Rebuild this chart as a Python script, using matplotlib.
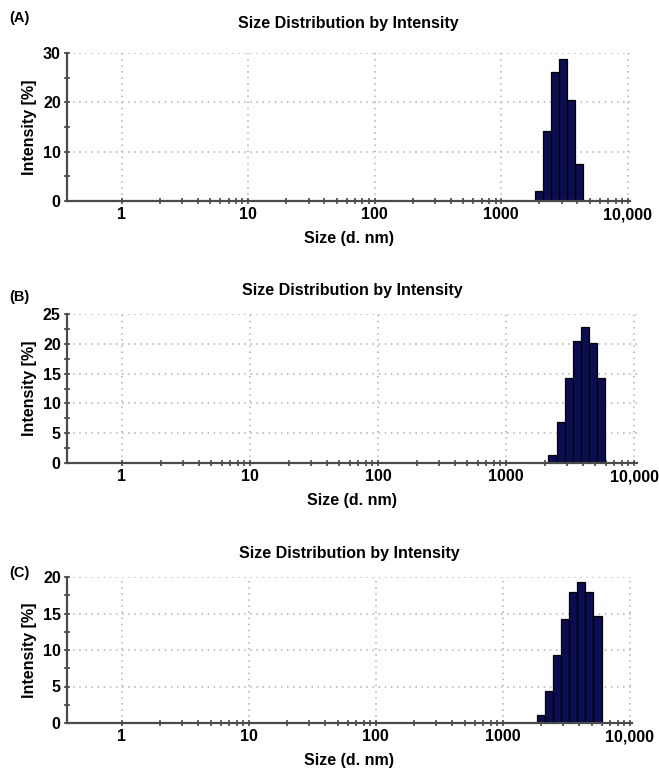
#!/usr/bin/env python3
# plot.py - DLS size distribution by intensity, three samples

import numpy as np
import matplotlib
matplotlib.use("Agg")
import matplotlib.pyplot as plt
from matplotlib.ticker import FixedLocator, FuncFormatter

plt.rcParams['font.family'] = ['Liberation Sans', 'DejaVu Sans']
plt.rcParams['font.weight'] = 'bold'

# size classes (d. nm) and intensity (%)
sizes_a = [1990, 2305, 2669, 3091, 3580, 4145]
intensity_a = [2.1, 14.1, 26.2, 28.7, 20.5, 7.6]

sizes_b = [2305, 2669, 3091, 3580, 4145, 4801, 5560]
intensity_b = [1.4, 6.9, 14.3, 20.4, 22.8, 20.2, 14.3]

sizes_c = [1990, 2305, 2669, 3091, 3580, 4145, 4801, 5560]
intensity_c = [1.1, 4.4, 9.3, 14.3, 17.9, 19.3, 17.9, 14.7]

panel_labels = ['(A)', '(B)', '(C)']
y_max = [30, 25, 20]
y_major = [10, 5, 5]
y_minor = [5, 2.5, 2.5]

# Malvern class ratio between neighbouring sizes
RATIO = 1.1581

W, H = 659, 776
BAR_COLOR = '#0b0d52'
AXIS_COLOR = '#4a4a4a'


def fmt_size(v, pos):
    if v >= 10000:
        return f"{int(v):,}"
    if v >= 1:
        return f"{int(round(v))}"
    return ""


def draw_panel(fig, rect_px, sizes, values, ymax, ymaj, ymin, label, label_y, xlim, title_pad):
    left, right, top, bottom = rect_px
    ax = fig.add_axes([left / W, 1 - bottom / H, (right - left) / W, (bottom - top) / H])

    sizes = np.array(sizes, dtype=float)
    lefts = sizes / np.sqrt(RATIO)
    widths = sizes * np.sqrt(RATIO) - lefts
    ax.bar(lefts, values, width=widths, align='edge', color=BAR_COLOR,
           edgecolor='black', linewidth=0.9, zorder=3)

    ax.set_xscale('log')
    ax.set_xlim(*xlim)
    ax.set_ylim(0, ymax)

    majors = [1, 10, 100, 1000, 10000]
    minors = [m * d for d in [1, 10, 100, 1000] for m in range(2, 10)]
    ax.xaxis.set_major_locator(FixedLocator(majors))
    ax.xaxis.set_minor_locator(FixedLocator(minors))
    ax.xaxis.set_major_formatter(FuncFormatter(fmt_size))
    ax.xaxis.set_minor_formatter(FuncFormatter(lambda v, p: ""))
    ax.yaxis.set_major_locator(FixedLocator(np.arange(0, ymax + 0.1, ymaj)))
    ax.yaxis.set_minor_locator(FixedLocator(np.arange(0, ymax + 0.1, ymin)))

    for s in ['top', 'right']:
        ax.spines[s].set_visible(False)
    for s in ['left', 'bottom']:
        ax.spines[s].set_color(AXIS_COLOR)
        ax.spines[s].set_linewidth(1.6)
        ax.spines[s].set_zorder(4)

    ax.tick_params(which='both', direction='inout', color=AXIS_COLOR, width=1.2)
    ax.tick_params(which='major', length=5, labelsize=11.5, pad=2)
    ax.tick_params(which='minor', length=5)
    for t in ax.get_xticklabels() + ax.get_yticklabels():
        t.set_fontweight('bold')

    ax.grid(True, which='major', color='#b0b0b0', linestyle=(0, (1, 3)), linewidth=1.1)
    ax.set_axisbelow(True)

    ax.set_xlabel('Size (d. nm)', fontsize=11.5, fontweight='bold', labelpad=6)
    ax.set_ylabel('Intensity [%]', fontsize=11.5, fontweight='bold', labelpad=4)
    ax.set_title('Size Distribution by Intensity', fontsize=11.5, fontweight='bold',
                 pad=title_pad)

    fig.text(9 / W, 1 - label_y / H, label, fontsize=10.5, fontweight='bold',
             ha='left', va='center')
    return ax


def main():
    fig = plt.figure(figsize=(W / 100, H / 100), dpi=100)
    fig.patch.set_facecolor('white')

    draw_panel(fig, (67, 630, 53, 201), sizes_a, intensity_a, y_max[0], y_major[0],
               y_minor[0], panel_labels[0], 18, (0.37, 10400), 18)
    draw_panel(fig, (67, 637, 314, 463), sizes_b, intensity_b, y_max[1], y_major[1],
               y_minor[1], panel_labels[1], 297, (0.372, 10550), 14)
    draw_panel(fig, (67, 632, 577, 723), sizes_c, intensity_c, y_max[2], y_major[2],
               y_minor[2], panel_labels[2], 573, (0.37, 10400), 14)

    fig.savefig('out.png', dpi=100)


if __name__ == "__main__":
    main()
